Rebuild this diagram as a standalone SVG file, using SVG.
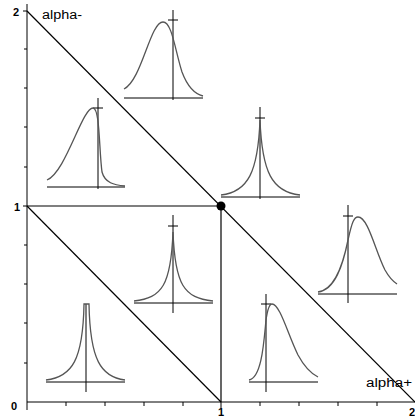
<svg xmlns="http://www.w3.org/2000/svg" width="415" height="420" viewBox="0 0 415 420">
<style>
.ax{stroke:#000;stroke-width:1;fill:none}
.ln{stroke:#000;stroke-width:1.2;fill:none}
.cv{stroke:#555;stroke-width:1.3;fill:none}
.pl{stroke:#000;stroke-width:1;fill:none}
text{font-family:"Liberation Sans",Arial,sans-serif;font-size:12px;fill:#000}
.num{font-weight:bold;font-size:11px}
</style>
<rect width="415" height="420" fill="#fff"/>
<g id="axes">
<line class="ax" x1="27" y1="4" x2="27" y2="410"/>
<line class="ax" x1="27" y1="402" x2="415" y2="402"/>
<path class="ax" d="M23,11H27M24,49H27M24,88H27M24,127H27M24,167H27M23,206H27M24,245H27M24,284H27M24,323H27M24,363H27M66,402V406M105,402V406M144,402V406M183,402V406M221,402V408M260,402V406M299,402V406M338,402V406M377,402V406"/>
<text class="num" x="13" y="16">2</text>
<text class="num" x="14" y="211">1</text>
<text class="num" x="11" y="410">0</text>
<text class="num" x="218" y="416">1</text>
<text class="num" x="409" y="416">2</text>
<text x="42" y="19" textLength="40" lengthAdjust="spacingAndGlyphs">alpha-</text>
<text x="366" y="387" textLength="46" lengthAdjust="spacingAndGlyphs">alpha+</text>
</g>
<g id="connectors">
<line class="ln" x1="27" y1="11" x2="415" y2="402"/>
<line class="ln" x1="27" y1="206" x2="221" y2="402"/>
<line class="ln" x1="27" y1="206" x2="221" y2="206"/>
<line class="ln" x1="221" y1="206" x2="221" y2="402"/>
</g>
<g id="point"><circle cx="221" cy="206" r="4.5" fill="#000"/></g>
<g id="plot1">
<path class="pl" d="M124,98H203M173,10V100M168,20H178"/>
<path class="cv" d="M124,89 C142,80 150,22 163,22 C172,22 175,50 182,72 C188,88 195,94 203,96"/>
</g>
<g id="plot2">
<path class="pl" d="M47,187H125M98,98V189M93,108H103"/>
<path class="cv" d="M47,180 C66,172 82,108 93,108 C100,108 99,150 102,172 C105,183 114,185 125,186"/>
</g>
<g id="plot3">
<path class="pl" d="M221,197H300M260,107V199M255,118H265"/>
<path class="cv" d="M221,195 C248,192 258,172 260,120 C262,172 272,192 300,195"/>
</g>
<g id="plot4">
<path class="pl" d="M318,294H397M348,205V303M343,216H353"/>
<path class="cv" d="M318,292 C335,290 343,265 348,240 C352,222 354,217 358,217 C368,217 375,250 385,270 C390,279 394,282 397,284"/>
</g>
<g id="plot5">
<path class="pl" d="M134,303H213M173,215V313M168,226H178"/>
<path class="cv" d="M134,301 C162,298 171,285 173,232 C175,285 184,298 213,301"/>
</g>
<g id="plot6">
<path class="pl" d="M46,382H125M86,304V392"/>
<path class="cv" d="M46,380 C72,377 83,360 84,304 L89,304 C90,360 101,377 125,380"/>
</g>
<g id="plot7">
<path class="pl" d="M249,382H318M266,294V392M261,304H271"/>
<path class="cv" d="M249,380 C262,378 264,340 266,320 C268,306 270,304 272,304 C280,304 288,335 298,355 C305,368 312,374 318,377"/>
</g>
</svg>
